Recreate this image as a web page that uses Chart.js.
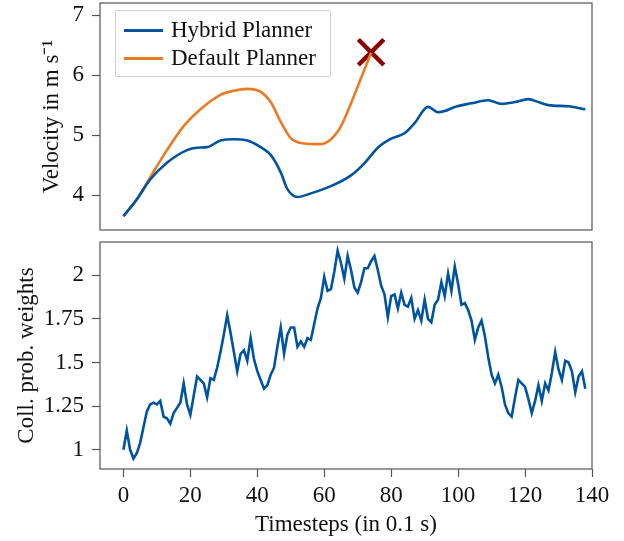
<!DOCTYPE html>
<html>
<head>
<meta charset="utf-8">
<script src="https://cdn.jsdelivr.net/npm/chart.js@4.4.0/dist/chart.umd.min.js"></script>
<style>
  body { margin: 0; background: #fff; }
  #wrap { position: relative; width: 624px; height: 541px; font-family: "Liberation Serif", serif; }
  #wrap canvas { position: absolute; left: 0; }
  #legend {
    position: absolute; left: 115px; top: 10px; width: 214px; height: 65px;
    border: 1px solid #d0d0d0; border-radius: 2px; background: rgba(255,255,255,0.85);
    font-size: 23px; color: #111;
  }
  .item { position: absolute; left: 8px; height: 28px; line-height: 28px; white-space: nowrap; }
  .item span.swatch { position: absolute; left: 0; top: 13px; width: 39px; height: 3px; }
  .item span.txt { position: absolute; left: 47px; top: 0; }
</style>
</head>
<body>
<div id="wrap">
  <canvas id="velChart" style="top:0" width="624" height="236"></canvas>
  <canvas id="weightChart" style="top:236px" width="624" height="305"></canvas>
  <div id="legend"></div>
</div>
<script>
// velocity, hybrid planner (timestep, m/s)
const hybridT = [0, 4, 8, 13, 19, 22, 25, 29, 33, 37, 41, 44, 47, 49, 52, 56, 62, 68, 72, 76, 80, 84, 87, 91, 94, 96, 99, 104, 109, 113, 117, 121, 124, 127, 133, 138];
const hybridV = [3.65, 3.93, 4.26, 4.54, 4.75, 4.79, 4.8, 4.91, 4.93, 4.91, 4.8, 4.67, 4.38, 4.1, 3.97, 4.03, 4.15, 4.33, 4.53, 4.79, 4.94, 5.03, 5.2, 5.47, 5.38, 5.4, 5.47, 5.53, 5.58, 5.52, 5.55, 5.6, 5.55, 5.5, 5.48, 5.43];

// velocity, default planner (ends in a collision)
const defaultT = [0, 4, 8, 13, 18, 23, 29, 33, 37, 41, 44, 47, 50, 53, 59, 62, 65, 68, 71, 74];
const defaultV = [3.65, 3.93, 4.3, 4.75, 5.15, 5.43, 5.67, 5.74, 5.77, 5.72, 5.55, 5.22, 4.95, 4.87, 4.85, 4.93, 5.15, 5.53, 5.95, 6.37];

const collisionT = [74];
const collisionV = [6.38];

// collision probability weights, one per timestep 0..138
const weights = [
  1.00, 1.11, 1.00, 0.95, 0.98, 1.04, 1.13, 1.22, 1.26, 1.27,
  1.26, 1.28, 1.19, 1.18, 1.15, 1.21, 1.24, 1.27, 1.38, 1.26,
  1.20, 1.31, 1.42, 1.40, 1.38, 1.30, 1.41, 1.40, 1.47, 1.56,
  1.66, 1.77, 1.67, 1.56, 1.45, 1.55, 1.57, 1.51, 1.64, 1.52,
  1.45, 1.40, 1.35, 1.37, 1.43, 1.47, 1.59, 1.70, 1.55, 1.66,
  1.70, 1.70, 1.59, 1.62, 1.59, 1.64, 1.63, 1.72, 1.81, 1.87,
  1.99, 1.91, 1.92, 2.02, 2.14, 2.07, 1.98, 2.11, 2.03, 1.93,
  1.90, 1.96, 2.04, 2.04, 2.08, 2.11, 2.03, 1.94, 1.89, 1.76,
  1.88, 1.89, 1.81, 1.90, 1.83, 1.82, 1.87, 1.75, 1.80, 1.74,
  1.86, 1.75, 1.73, 1.83, 1.86, 1.96, 1.88, 2.01, 1.91, 2.05,
  1.95, 1.83, 1.84, 1.80, 1.74, 1.63, 1.70, 1.74, 1.65, 1.53,
  1.43, 1.38, 1.43, 1.36, 1.26, 1.21, 1.19, 1.30, 1.40, 1.38,
  1.36, 1.29, 1.21, 1.28, 1.37, 1.28, 1.38, 1.34, 1.44, 1.56,
  1.46, 1.40, 1.51, 1.50, 1.45, 1.33, 1.42, 1.45, 1.35
];
const weightTicks = [1, 1.25, 1.5, 1.75, 2];
const weightTickText = ['1', '1.25', '1.5', '1.75', '2'];

const BLUE = '#00549F';
const ORANGE = '#EC7A24';
const AXIS = '#555555';
const FONT = { family: '"Liberation Serif", serif', size: 23 };

Chart.defaults.font = FONT;
Chart.defaults.color = '#111';

function pts(xs, ys) {
  return xs.map((x, i) => ({ x: x, y: ys[i] }));
}

// box around the plot area like matplotlib spines
const frame = {
  id: 'frame',
  afterDraw(chart) {
    const a = chart.chartArea, ctx = chart.ctx;
    ctx.save();
    ctx.strokeStyle = AXIS;
    ctx.lineWidth = 1.2;
    ctx.strokeRect(a.left, a.top, a.right - a.left, a.bottom - a.top);
    ctx.restore();
  }
};

function tickGrid() {
  return { drawOnChartArea: false, drawTicks: true, tickLength: 8, color: AXIS, tickWidth: 1.2 };
}

// keep tick labels from pushing the plot area around
function fixY(s) {
  s.width = 100;
  s.paddingTop = 0;
  s.paddingBottom = 0;
}

const velChart = new Chart(document.getElementById('velChart'), {
  type: 'line',
  data: {
    datasets: [
      { label: 'Hybrid Planner', data: pts(hybridT, hybridV), borderColor: BLUE, borderWidth: 2.6, pointRadius: 0, cubicInterpolationMode: 'monotone' },
      { label: 'Default Planner', data: pts(defaultT, defaultV), borderColor: ORANGE, borderWidth: 2.6, pointRadius: 0, cubicInterpolationMode: 'monotone' },
      { label: 'collision', data: pts(collisionT, collisionV), showLine: false, pointStyle: 'crossRot', pointRadius: 18, borderWidth: 4.5, borderColor: '#8B0000', clip: false }
    ]
  },
  options: {
    animation: false,
    responsive: false,
    layout: { autoPadding: false, padding: { top: 3, right: 32, left: 0, bottom: 0 } },
    plugins: { legend: { display: false }, tooltip: { enabled: false } },
    scales: {
      x: {
        type: 'linear', min: -7, max: 140,
        ticks: { display: false },
        grid: { display: false },
        border: { display: false },
        afterFit: s => { s.height = 6; s.paddingLeft = 0; s.paddingRight = 0; }
      },
      y: {
        min: 3.42, max: 7.2,
        afterBuildTicks: s => { s.ticks = [4, 5, 6, 7].map(v => ({ value: v })); },
        ticks: { padding: 8, color: '#111' },
        grid: tickGrid(),
        border: { display: false },
        title: { display: true, text: 'Velocity in m s\u207B\u00B9', padding: { top: 38 }, color: '#111' },
        afterFit: fixY
      }
    }
  },
  plugins: [frame]
});

const weightChart = new Chart(document.getElementById('weightChart'), {
  type: 'line',
  data: {
    datasets: [
      { label: 'Coll. prob. weights', data: weights.map((w, i) => ({ x: i, y: w })), borderColor: BLUE, borderWidth: 2.6, pointRadius: 0, tension: 0 }
    ]
  },
  options: {
    animation: false,
    responsive: false,
    layout: { autoPadding: false, padding: { top: 6, right: 32, left: 0, bottom: 0 } },
    plugins: { legend: { display: false }, tooltip: { enabled: false } },
    scales: {
      x: {
        type: 'linear', min: -7, max: 140,
        afterBuildTicks: s => { s.ticks = [0, 20, 40, 60, 80, 100, 120, 140].map(v => ({ value: v })); },
        ticks: { padding: 5, color: '#111', maxRotation: 0 },
        grid: tickGrid(),
        border: { display: false },
        title: { display: true, text: 'Timesteps (in 0.1 s)', padding: { top: 0, bottom: 2 }, color: '#111' },
        afterFit: s => { s.height = 72; s.paddingLeft = 0; s.paddingRight = 0; }
      },
      y: {
        min: 0.89, max: 2.19,
        afterBuildTicks: s => { s.ticks = weightTicks.map(v => ({ value: v })); },
        ticks: { padding: 8, color: '#111', callback: v => weightTickText[weightTicks.indexOf(v)] },
        grid: tickGrid(),
        border: { display: false },
        title: { display: true, text: 'Coll. prob. weights', padding: { top: 13 }, color: '#111' },
        afterFit: fixY
      }
    }
  },
  plugins: [frame]
});

// legend drawn inside the upper plot, built from the line datasets
const legend = document.getElementById('legend');
velChart.data.datasets.slice(0, 2).forEach((ds, i) => {
  const item = document.createElement('div');
  item.className = 'item';
  item.style.top = (5 + i * 28) + 'px';
  item.innerHTML = '<span class="swatch" style="background:' + ds.borderColor + '"></span><span class="txt">' + ds.label + '</span>';
  legend.appendChild(item);
});
</script>
</body>
</html>
